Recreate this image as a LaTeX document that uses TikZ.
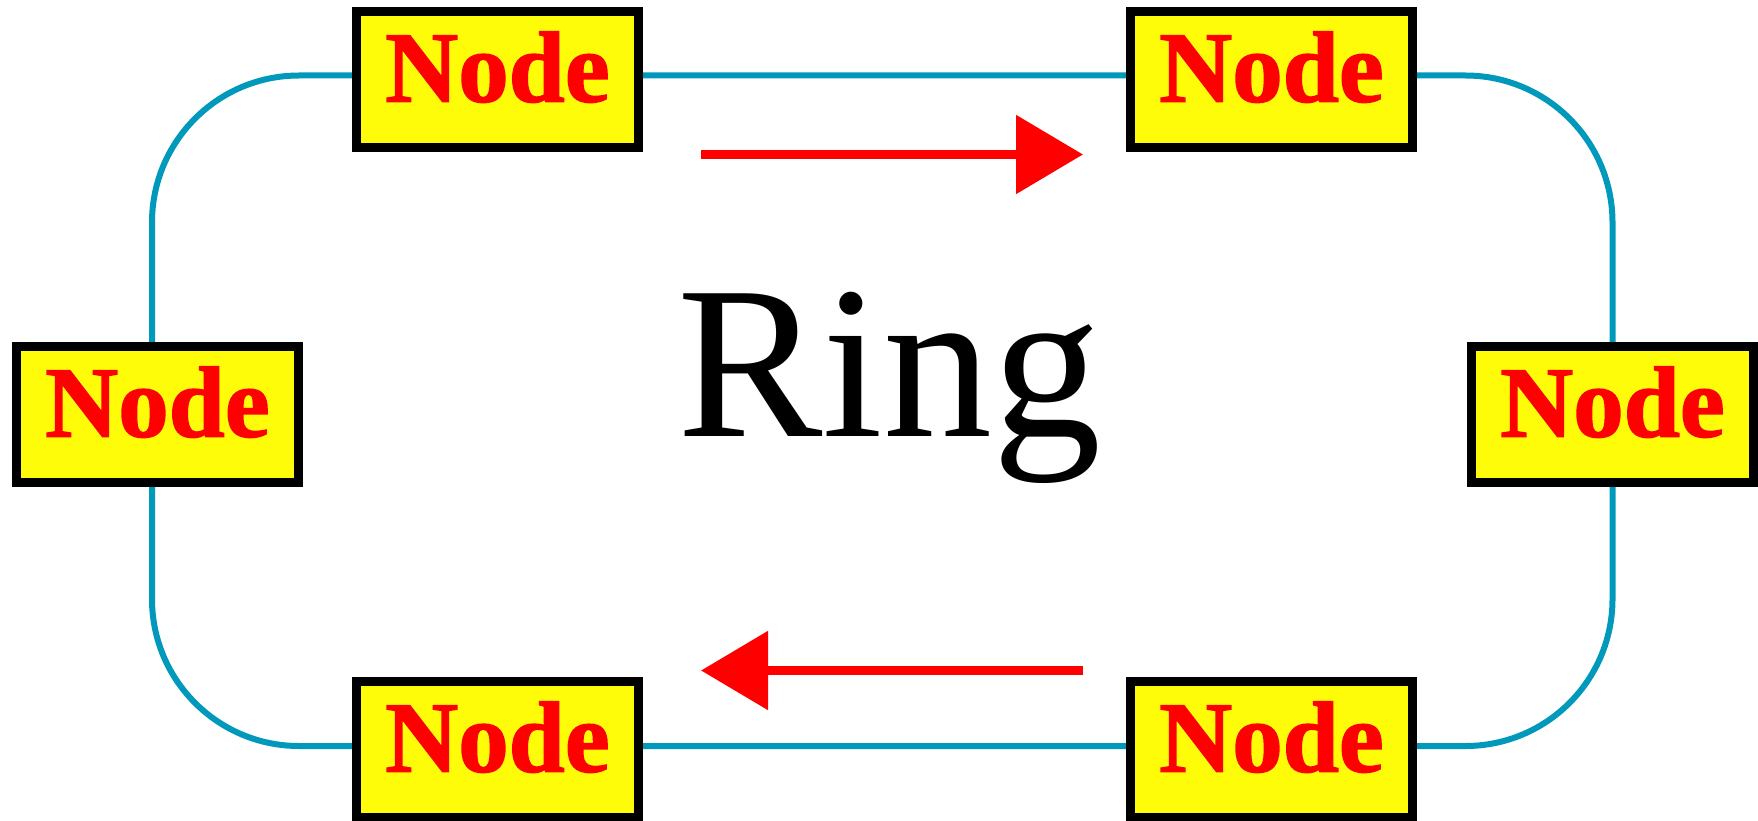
\documentclass[tikz,border=0pt]{standalone}
\usepackage{fontspec}
\setmainfont{Liberation Serif}
\newfontfamily\nodefont{Liberation Serif}[UprightFont=* Bold, FakeBold=1.5]
\usetikzlibrary{arrows.meta,backgrounds}
\definecolor{ringblue}{RGB}{0,153,187}
\definecolor{nodeyellow}{RGB}{255,252,10}
\definecolor{flowred}{RGB}{255,0,0}
\tikzset{
  ringnode/.style={draw=black, line width=9pt, fill=nodeyellow, rectangle,
    minimum width=282pt, minimum height=136pt, inner sep=0pt,
    text height=44.4pt, text depth=0pt, text=flowred,
    font=\fontsize{101}{101}\selectfont\nodefont},
  ringline/.style={draw=ringblue, line width=6pt, rounded corners=147pt},
  flow/.style={draw=flowred, line width=9pt, -{Triangle[length=67pt,width=77pt]}, fill=flowred},
  title/.style={font=\fontsize{218}{218}\selectfont, text=black, inner sep=0pt, anchor=base west}
}
\begin{document}
\begin{tikzpicture}[x=1pt,y=-1pt]
\useasboundingbox (0,0) rectangle (1758,821);
\node[ringnode] (tl) at (497.5,79.5) {Node};
\node[ringnode] (tr) at (1271.5,79.5) {Node};
\node[ringnode] (l) at (157.5,414.5) {Node};
\node[ringnode] (r) at (1612.5,414.5) {Node};
\node[ringnode] (bl) at (497.5,749.5) {Node};
\node[ringnode] (br) at (1271.5,749.5) {Node};
\begin{scope}[on background layer]
\draw[ringline] ([yshift=4pt]tl.center) -- ([yshift=4pt]tr.center) -| (r.center);
\draw[ringline] (r.center) |- ([yshift=3.5pt]br.center) -- ([yshift=3.5pt]bl.center);
\draw[ringline] ([yshift=3.5pt]bl.center) -| ([xshift=-5.5pt]l.center);
\draw[ringline] ([xshift=-5.5pt]l.center) |- ([yshift=4pt]tl.center);
\end{scope}
\coordinate (a1s) at (701,154.5);
\coordinate (a1e) at (1083,154.5);
\coordinate (a2s) at (1083,670.5);
\coordinate (a2e) at (701,670.5);
\draw[flow] (a1s) -- (a1e);
\draw[flow] (a2s) -- (a2e);
\node[title] (ring) at (677,436.7) {Ring};
\end{tikzpicture}
\end{document}
